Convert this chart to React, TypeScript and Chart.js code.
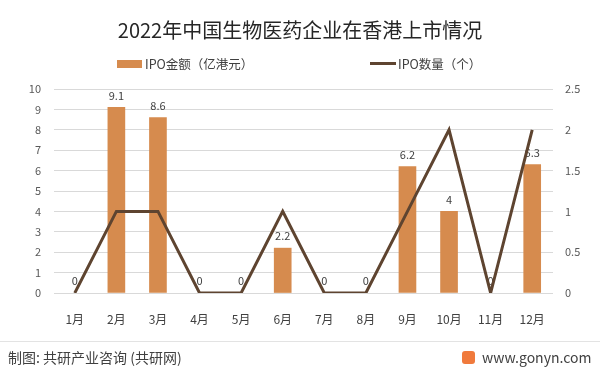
import React, { useEffect, useRef } from "react";
import { Chart, registerables } from "chart.js";
Chart.register(...registerables);

const months = ["1月", "2月", "3月", "4月", "5月", "6月", "7月", "8月", "9月", "10月", "11月", "12月"];
const ipoAmount = [0, 9.1, 8.6, 0, 0, 2.2, 0, 0, 6.2, 4, 0, 6.3];
const ipoCount = [0, 1, 1, 0, 0, 1, 0, 0, 1, 2, 0, 2];

const titleText = "2022年中国生物医药企业在香港上市情况";
const barLegend = "IPO金额（亿港元）";
const lineLegend = "IPO数量（个）";
const sourceText = "制图: 共研产业咨询 (共研网)";
const siteText = "www.gonyn.com";

const BAR_COLOR = "#D68B4E";
const LINE_COLOR = "#5E4430";
const FONT = "'Noto Sans CJK SC', 'Noto Sans', sans-serif";

const barLabels = {
  id: "barLabels",
  afterDatasetDraw(chart: any, args: any) {
    if (args.index !== 0) return;
    const ctx = chart.ctx;
    const meta = chart.getDatasetMeta(0);
    ctx.save();
    ctx.font = `11px ${FONT}`;
    ctx.fillStyle = "#404040";
    ctx.textAlign = "center";
    ctx.textBaseline = "middle";
    meta.data.forEach((el: any, i: number) => {
      ctx.fillText(String(ipoAmount[i]), el.x, el.y - 12);
    });
    ctx.restore();
  },
};

export default function App() {
  const ref = useRef<HTMLCanvasElement>(null);
  useEffect(() => {
    document.body.style.margin = "0";
    const chart = new Chart(ref.current!, {
      data: {
        labels: months,
        datasets: [
          {
            type: "bar",
            label: barLegend,
            data: ipoAmount,
            backgroundColor: ipoAmount.map((v) => (v === 0 ? "rgba(0,0,0,0)" : BAR_COLOR)),
            barThickness: 17,
            yAxisID: "y",
            order: 1,
          },
          {
            type: "line",
            label: lineLegend,
            data: ipoCount,
            borderColor: LINE_COLOR,
            borderWidth: 3,
            pointRadius: 0,
            tension: 0,
            yAxisID: "y1",
            order: 0,
          },
        ],
      } as any,
      options: {
        animation: false,
        responsive: false,
        layout: { padding: { top: 89, left: 0, right: 0, bottom: 0 } },
        plugins: { legend: { display: false }, title: { display: false }, tooltip: { enabled: false } },
        scales: {
          x: {
            grid: { display: false },
            border: { display: false },
            ticks: { color: "#404040", font: { size: 12, family: FONT }, padding: 11 },
            afterFit: (s: any) => { s.height = 77; },
          },
          y: {
            position: "left",
            min: 0,
            max: 10,
            ticks: { stepSize: 1, color: "#595959", font: { size: 11, family: FONT }, padding: 13 },
            grid: { color: "#D9D9D9", drawTicks: false },
            border: { display: false },
            afterFit: (s: any) => { s.width = 54; },
          },
          y1: {
            position: "right",
            min: 0,
            max: 2.5,
            ticks: {
              stepSize: 0.5,
              color: "#595959",
              font: { size: 11, family: FONT },
              padding: 12,
              callback: (v: any) => String(Number(v)),
            },
            grid: { display: false, drawTicks: false },
            border: { display: false },
            afterFit: (s: any) => { s.width = 47; },
          },
        },
      } as any,
      plugins: [barLabels],
    });
    return () => chart.destroy();
  }, []);

  return (
    <div style={{ position: "absolute", left: 0, top: 0, width: 600, height: 370, background: "#fff", fontFamily: FONT, overflow: "hidden" }}>
      <canvas ref={ref} width={600} height={370} style={{ position: "absolute", left: 0, top: 0 }} />
      <div style={{ position: "absolute", left: 0, width: 600, top: 17, textAlign: "center", fontSize: 20, color: "#262626", lineHeight: "26px" }}>{titleText}</div>
      <div style={{ position: "absolute", left: 117, top: 60, width: 25, height: 8, background: BAR_COLOR }} />
      <div style={{ position: "absolute", left: 145, top: 56, fontSize: 12.5, color: "#404040", lineHeight: "16px" }}>{barLegend}</div>
      <div style={{ position: "absolute", left: 370, top: 62, width: 26, height: 3, background: LINE_COLOR }} />
      <div style={{ position: "absolute", left: 398, top: 56, fontSize: 12.5, color: "#404040", lineHeight: "16px" }}>{lineLegend}</div>
      <div style={{ position: "absolute", left: 0, top: 341, width: 600, height: 1, background: "#E3E3E3" }} />
      <div style={{ position: "absolute", left: 8, top: 348, fontSize: 14, color: "#404040", lineHeight: "18px" }}>{sourceText}</div>
      <div style={{ position: "absolute", left: 462, top: 351, width: 13, height: 13, background: "#F07A3C", borderRadius: 3 }} />
      <div style={{ position: "absolute", left: 482, top: 348, fontSize: 14, color: "#404040", lineHeight: "18px" }}>{siteText}</div>
    </div>
  );
}
